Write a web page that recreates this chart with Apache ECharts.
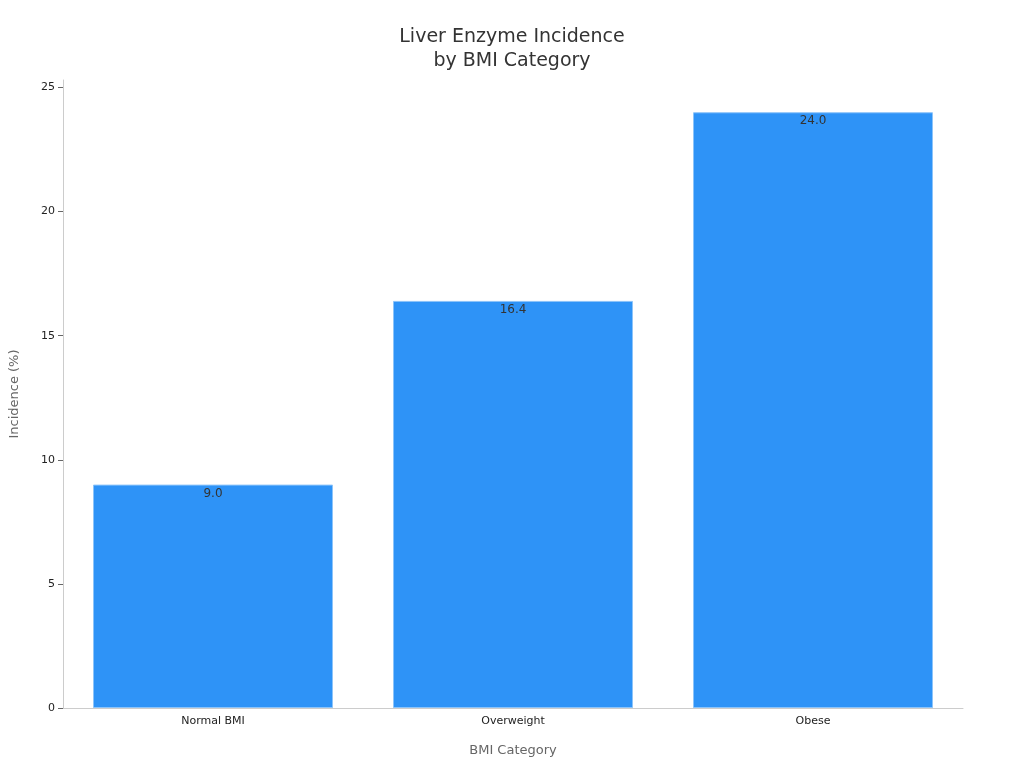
<!DOCTYPE html>
<html><head><meta charset="utf-8">
<script src="https://cdn.jsdelivr.net/npm/echarts@6/dist/echarts.min.js"></script>
<style>html,body{margin:0;padding:0;background:#fff}#c{width:1024px;height:768px}</style>
</head><body><div id="c"></div>
<script>
const categories = ["Normal BMI", "Overweight", "Obese"];
const values = [9.0, 16.4, 24.0];
const yTicks = [0, 5, 10, 15, 20, 25];
const chart = echarts.init(document.getElementById('c'));
const F = 'DejaVu Sans';
chart.setOption({
  textStyle:{fontFamily:F},
  title:{text:'Liver Enzyme Incidence\nby BMI Category',left:'center',top:20,
    textStyle:{fontFamily:F,fontSize:19,fontWeight:'normal',color:'#333',lineHeight:24}},
  grid:{left:60,right:61,top:80,bottom:60},
  xAxis:{type:'category',data:categories,name:'BMI Category',nameLocation:'middle',nameGap:36,
    nameTextStyle:{fontFamily:F,fontSize:13,color:'#666'},
    axisLine:{lineStyle:{color:'#ccc'}},axisTick:{alignWithLabel:true,lineStyle:{color:'#666'}},
    axisLabel:{fontFamily:F,fontSize:11,color:'#222'}},
  yAxis:{type:'value',min:0,max:25.3,interval:5,name:'Incidence (%)',nameLocation:'middle',nameGap:42,
    nameTextStyle:{fontFamily:F,fontSize:13,color:'#666'},
    axisLine:{show:true,lineStyle:{color:'#ccc'}},axisTick:{show:true,lineStyle:{color:'#666'}},
    splitLine:{show:false},
    axisLabel:{fontFamily:F,fontSize:11,color:'#222',showMaxLabel:false,
      formatter:v=>yTicks.includes(v)?String(v):''}},
  series:[{type:'bar',data:values,barCategoryGap:'20%',
    itemStyle:{color:'#2E93F7',borderColor:'#8cc4fa',borderWidth:1},
    label:{show:true,position:'insideTop',offset:[0,-2],color:'#333',fontFamily:F,fontSize:12,
      formatter:p=>p.value.toFixed(1)}}]
});
</script></body></html>
